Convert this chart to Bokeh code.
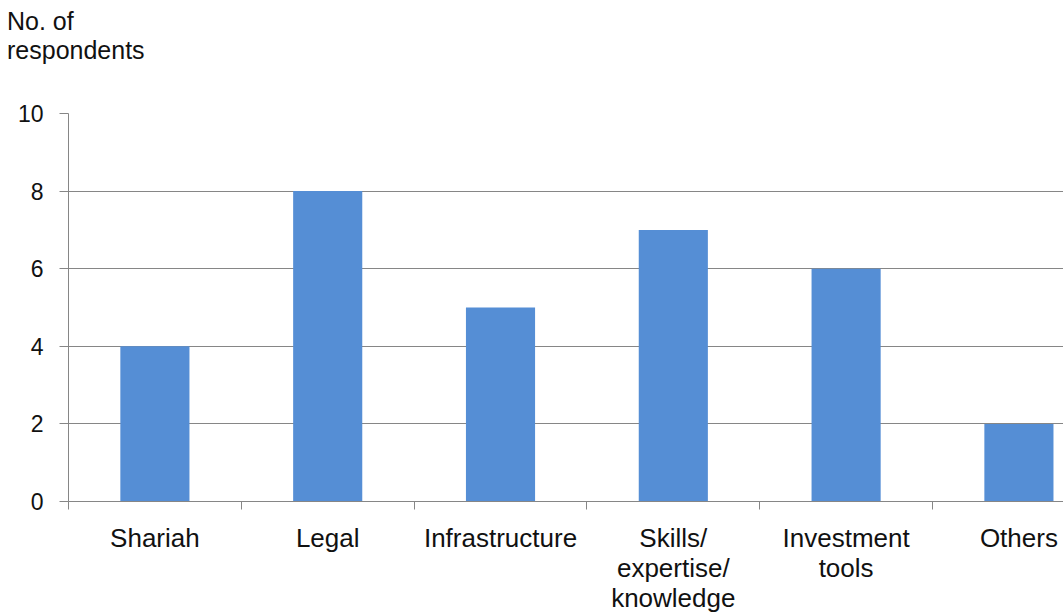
from bokeh.plotting import figure
from bokeh.models import FixedTicker, Range1d, Div, ColumnDataSource
from bokeh.layouts import column
from bokeh.embed import file_html
from bokeh.resources import INLINE

categories = ["Shariah", "Legal", "Infrastructure", "Skills/\nexpertise/\nknowledge", "Investment\ntools", "Others"]
respondents = [4, 8, 5, 7, 6, 2]
y_ticks = [0, 2, 4, 6, 8, 10]
y_title_lines = ["No. of", "respondents"]

FONT = "Liberation Sans"
x_pos = [i + 0.5 for i in range(len(categories))]
src = ColumnDataSource(dict(x=x_pos, top=respondents, cat=categories))

title_div = Div(text="<br>".join(y_title_lines), width=1063, height=70,
                styles={"font-family": FONT, "font-size": "25px", "line-height": "29px",
                        "color": "#111111", "margin": "0", "padding-left": "7px",
                        "padding-top": "7px", "box-sizing": "border-box",
                        "overflow": "visible"})

p = figure(width=1063, height=545, output_backend="svg", toolbar_location=None,
           x_range=Range1d(0, 5.758), y_range=Range1d(0, 10),
           min_border_left=68, min_border_right=0, min_border_top=43, min_border_bottom=114)
p.outline_line_color = None
p.background_fill_color = "white"

p.vbar(x="x", top="top", width=0.4, bottom=0, source=src, fill_color="#558ed5", line_color=None)

xa = p.xaxis[0]
xa.ticker = FixedTicker(ticks=x_pos, minor_ticks=list(range(len(categories) + 1)))
xa.major_label_overrides = {x: c for x, c in zip(x_pos, categories)}
xa.major_tick_out = 0
xa.major_tick_in = 0
xa.minor_tick_out = 8
xa.minor_tick_in = 0
xa.minor_tick_line_color = "#868686"
xa.axis_line_color = "#868686"
xa.major_label_standoff = 13
xa.major_label_text_font = FONT
xa.major_label_text_font_size = "26px"
xa.major_label_text_color = "#111111"
xa.major_label_text_line_height = 1.0

ya = p.yaxis[0]
ya.ticker = FixedTicker(ticks=y_ticks)
ya.minor_tick_line_color = None
ya.major_tick_out = 9
ya.major_tick_in = 0
ya.major_tick_line_color = "#868686"
ya.axis_line_color = "#868686"
ya.major_label_standoff = 16
ya.major_label_text_font = FONT
ya.major_label_text_font_size = "23px"
ya.major_label_text_color = "#111111"

p.xgrid.visible = False
p.ygrid.grid_line_color = "#868686"
p.ygrid.ticker = FixedTicker(ticks=y_ticks)

layout = column(title_div, p, spacing=0)
open("out.html", "w").write(file_html(layout, INLINE))
